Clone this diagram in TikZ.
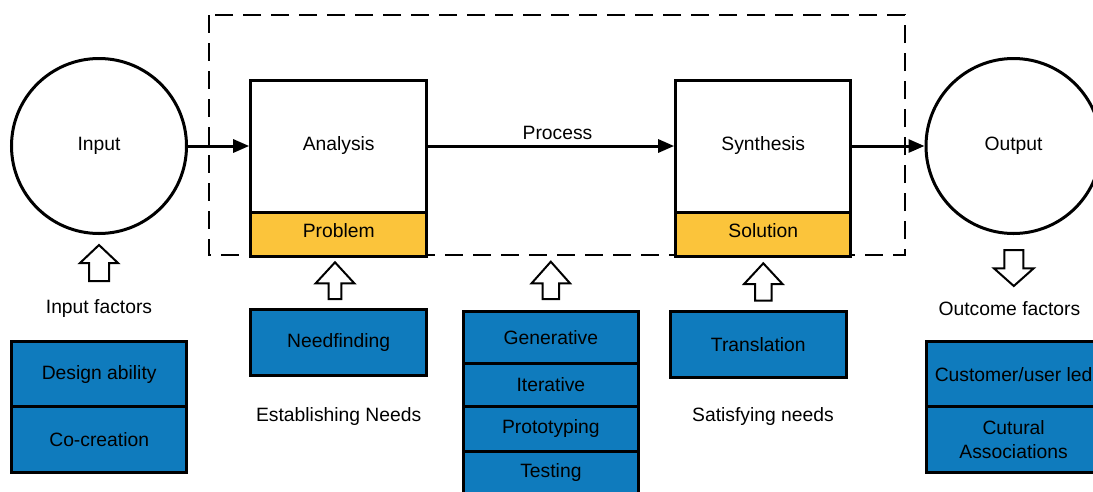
\documentclass[tikz,border=0pt]{standalone}
\usepackage{fontspec}
\setmainfont{Liberation Sans}
\usetikzlibrary{arrows.meta}
\definecolor{boxblue}{HTML}{0F7BBD}
\definecolor{boxyellow}{HTML}{FBC43B}

% hollow block arrow: x, tip y, head-base y, tail y, head half-width, shaft half-width
\newcommand\hollowarrow[6]{%
  \draw[hollow] (#1,#2) -- ({#1+#5},#3) -- ({#1+#6},#3) -- ({#1+#6},#4)
    -- ({#1-#6},#4) -- ({#1-#6},#3) -- ({#1-#5},#3) -- cycle;}

\tikzset{
  txt/.style={font=\fontsize{19.3}{23.7}\selectfont, inner sep=0pt, align=center},
  frame/.style={txt, draw=black, line width=3pt, rectangle},
  whitebox/.style={frame, fill=white},
  yellowbox/.style={frame, fill=boxyellow, text height=14pt, text depth=7.4pt},
  bluebox/.style={frame, fill=boxblue},
  circ/.style={txt, draw=black, line width=3pt, circle, fill=white, minimum size=175pt},
  flow/.style={line width=3pt, -{Triangle[length=16pt,width=13pt]}},
  hollow/.style={draw=black, line width=2pt, fill=white, line join=miter},
  dashline/.style={draw=black, line width=2pt, dash pattern=on 18pt off 10pt},
}

\begin{document}
\begin{tikzpicture}[x=1pt,y=-1pt]
\useasboundingbox (0,0) rectangle (1093,491);
\fill[white] (0,0) rectangle (1093,491);
\clip (0,0) rectangle (1093,491);

% process frame
\draw[dashline] (209,15) rectangle (905,255);

% main row
\node[circ] (in) at (99,146) {Input};
\node[circ] (out) at (1013.5,146) {Output};

\node[whitebox, minimum width=176pt, minimum height=132pt] (an) at (338.7,146) {Analysis};
\node[yellowbox, minimum width=176pt, minimum height=44pt] (pb) at (338.7,234) {Problem};
\node[whitebox, minimum width=175.3pt, minimum height=132pt] (sy) at (763.3,146) {Synthesis};
\node[yellowbox, minimum width=175.3pt, minimum height=44pt] (so) at (763.3,234) {Solution};

\draw[flow] (in.east) -- (an.west);
\draw[flow] (an.east) -- (sy.west);
\draw[flow] (sy.east) -- (out.west);
\node[txt] (proc) at (557.5,132.8) {Process};

% factor arrows
\hollowarrow{99}{245}{263}{281}{19}{10}
\hollowarrow{335}{262.3}{283.3}{299}{19.3}{6.3}
\hollowarrow{550.8}{261.7}{283.3}{299}{19.2}{8.3}
\hollowarrow{763.3}{263.3}{284}{300.7}{19.2}{8.3}
\hollowarrow{1013.8}{286}{268.3}{250}{19.9}{9.5}

% captions
\node[txt] (inf) at (99,308.5) {Input factors};
\node[txt] (outf) at (1009.4,308.3) {Outcome factors};
\node[txt] (estab) at (338.7,416.8) {Establishing Needs};
\node[txt] (satis) at (763,416.8) {Satisfying needs};

% input factors
\node[bluebox, minimum width=175pt, minimum height=65pt] (da) at (99.2,374.2) {Design ability};
\node[bluebox, minimum width=175pt, minimum height=65.6pt] (cc) at (99.2,439.5) {Co-creation};

% establishing needs
\node[bluebox, minimum width=176pt, minimum height=65.7pt] (nf) at (338.7,342.2) {Needfinding};

% process methods
\node[bluebox, minimum width=174.3pt, minimum height=51.6pt] (gen) at (550.9,337.5) {Generative};
\node[bluebox, minimum width=174.3pt, minimum height=43.4pt] (it) at (550.9,385) {Iterative};
\node[bluebox, minimum width=174.3pt, minimum height=44.3pt] (pr) at (550.9,428.9) {Prototyping};
\node[bluebox, minimum width=174.3pt, minimum height=44pt] (te) at (550.9,473) {Testing};

% satisfying needs
\node[bluebox, minimum width=175.9pt, minimum height=66.3pt] (tr) at (758.3,344.2) {Translation};

% outcome factors
\node[bluebox, minimum width=175pt, minimum height=65pt] (cu) at (1013.6,374.2) {Customer/user led};
\node[bluebox, minimum width=175pt, minimum height=66pt] (ca) at (1013.6,439.7) {Cutural\\Associations};
\end{tikzpicture}
\end{document}
